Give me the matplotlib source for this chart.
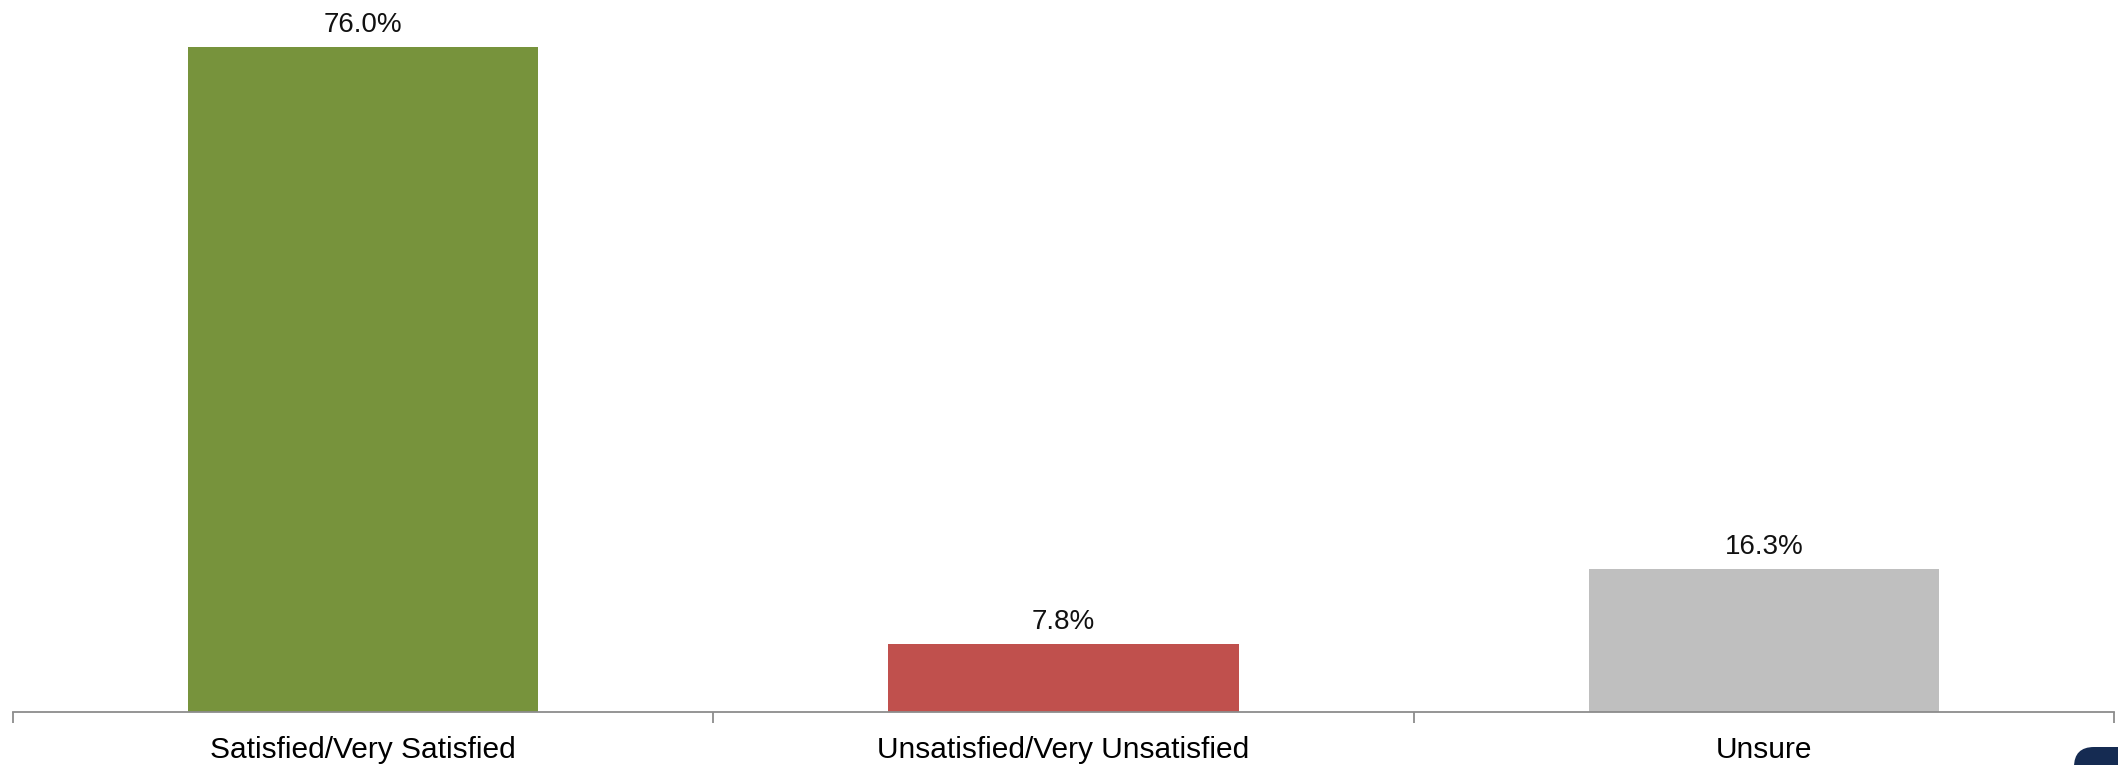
import matplotlib.pyplot as plt
from matplotlib.patches import FancyBboxPatch

categories = ['Satisfied/Very Satisfied', 'Unsatisfied/Very Unsatisfied', 'Unsure']
values = [76.0, 7.8, 16.3]
labels = ['76.0%', '7.8%', '16.3%']
colors = ['#77933C', '#C0504D', '#BFBFBF']

plt.rcParams['font.family'] = ['Liberation Sans', 'DejaVu Sans']

fig = plt.figure(figsize=(21.18, 7.65), dpi=100)
ax = fig.add_axes([13 / 2118, 53 / 765, 2101 / 2118, 712 / 765])

x = list(range(len(categories)))
ax.bar(x, values, width=0.5, color=colors)

# value labels above bars
for xi, v, lab in zip(x, values, labels):
    ax.annotate(lab, (xi, v), xytext=(0, 16), textcoords='offset points',
                ha='center', va='center', fontsize=20, color='#111111')

ax.set_xlim(-0.5, 2.5)
ax.set_ylim(0, 81.4)

ax.set_xticks(x)
ax.set_xticklabels(categories, fontsize=21.5)
ax.tick_params(axis='x', which='major', length=0, pad=17)
ax.set_xticks([-0.5, 0.5, 1.5, 2.5], minor=True)
ax.tick_params(axis='x', which='minor', length=8, width=1.3, color='#8c8c8c', direction='out')

ax.set_yticks([])
for side in ['top', 'right', 'left']:
    ax.spines[side].set_visible(False)
ax.spines['bottom'].set_color('#8c8c8c')
ax.spines['bottom'].set_linewidth(1.3)

# dark badge cut off in the bottom right corner (inches)
badge = FancyBboxPatch((20.74, -0.22), 1.0, 0.40,
                       boxstyle='round,pad=0,rounding_size=0.2',
                       transform=fig.dpi_scale_trans, facecolor='#152b52',
                       edgecolor='none', clip_on=False)
fig.patches.append(badge)

fig.savefig('out.png', dpi=100)
